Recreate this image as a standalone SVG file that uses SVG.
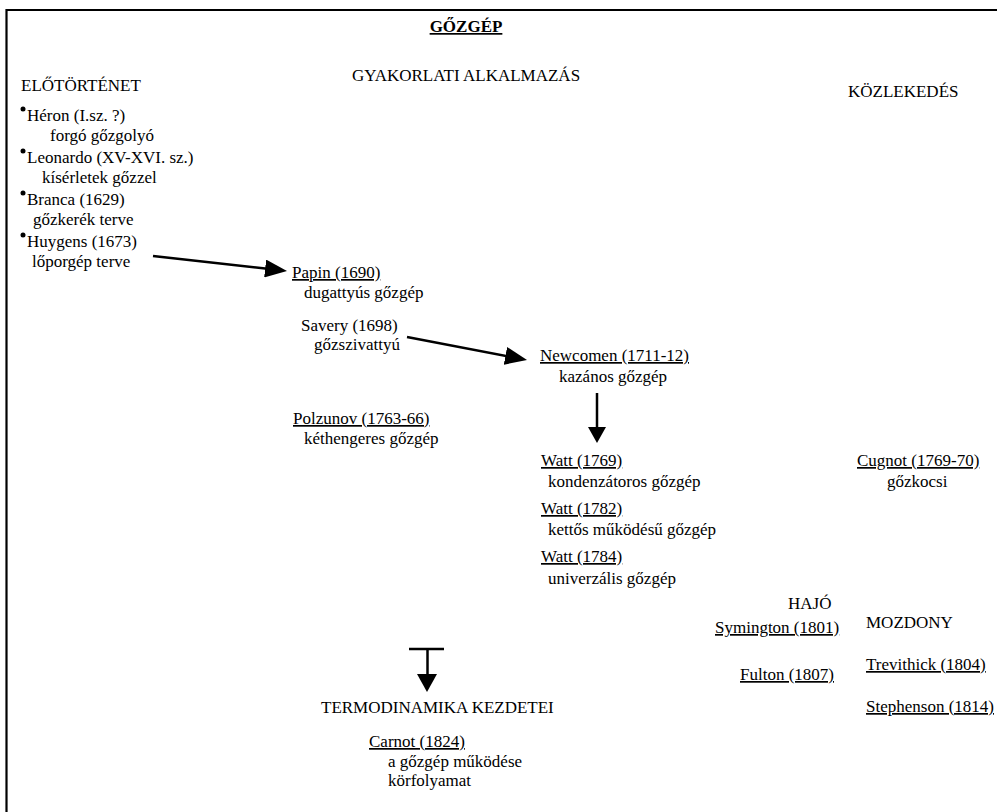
<svg xmlns="http://www.w3.org/2000/svg" width="997" height="812" viewBox="0 0 997 812">
  <style>
    text { font-family: "Liberation Serif", "Times New Roman", serif; font-size: 17px; fill: #000; }
    .title { font-weight: bold; text-decoration: underline; }
    .u { text-decoration: underline; }
    .frame { fill: none; stroke: #000; stroke-width: 2.2; }
    .conn { stroke: #000; stroke-width: 2.5; fill: none; }
    .bullet { fill: #000; }
  </style>
  <defs>
    <marker id="head" viewBox="0 0 22 18" markerWidth="22" markerHeight="18" refX="7" refY="9" orient="auto" markerUnits="userSpaceOnUse">
      <path d="M0,0 L22,9 L0,18 z" fill="#000"/>
    </marker>
    <marker id="headShort" viewBox="0 0 16 18" markerWidth="16" markerHeight="18" refX="7" refY="9" orient="auto" markerUnits="userSpaceOnUse">
      <path d="M0,0 L16,9 L0,18 z" fill="#000"/>
    </marker>
  </defs>
  <rect width="997" height="812" fill="#fff"/>

  <!-- open frame: top rule and left rule -->
  <path class="frame" d="M6.5,812 V10 H997"/>

  <g id="title">
    <text class="title" x="466" y="32" text-anchor="middle">GŐZGÉP</text>
  </g>

  <!-- column headings -->
  <g id="heading-elotortenet"><text x="21" y="91">ELŐTÖRTÉNET</text></g>
  <g id="heading-gyakorlati"><text x="352" y="81">GYAKORLATI ALKALMAZÁS</text></g>
  <g id="heading-kozlekedes"><text x="848" y="97">KÖZLEKEDÉS</text></g>

  <!-- prehistory list -->
  <g id="heron">
    <circle class="bullet" cx="23" cy="109" r="2.5"/>
    <text x="27" y="121">Héron (I.sz. ?)</text>
    <text x="50" y="141">forgó gőzgolyó</text>
  </g>
  <g id="leonardo">
    <circle class="bullet" cx="23" cy="151" r="2.5"/>
    <text x="27" y="163">Leonardo (XV-XVI. sz.)</text>
    <text x="42" y="183">kísérletek gőzzel</text>
  </g>
  <g id="branca">
    <circle class="bullet" cx="23" cy="193" r="2.5"/>
    <text x="27" y="205">Branca (1629)</text>
    <text x="33" y="225">gőzkerék terve</text>
  </g>
  <g id="huygens">
    <circle class="bullet" cx="23" cy="235" r="2.5"/>
    <text x="27" y="247">Huygens (1673)</text>
    <text x="32" y="267">lőporgép terve</text>
  </g>

  <!-- practical applications -->
  <g id="papin">
    <text class="u" x="292" y="278">Papin (1690)</text>
    <text x="304" y="298">dugattyús gőzgép</text>
  </g>
  <g id="savery">
    <text x="301" y="331">Savery (1698)</text>
    <text x="314" y="350">gőzszivattyú</text>
  </g>
  <g id="newcomen">
    <text class="u" x="540" y="361">Newcomen (1711-12)</text>
    <text x="559" y="382">kazános gőzgép</text>
  </g>
  <g id="polzunov">
    <text class="u" x="293" y="424">Polzunov (1763-66)</text>
    <text x="304" y="444">kéthengeres gőzgép</text>
  </g>
  <g id="watt-1769">
    <text class="u" x="541" y="466">Watt (1769)</text>
    <text x="548" y="487">kondenzátoros gőzgép</text>
  </g>
  <g id="watt-1782">
    <text class="u" x="541" y="514">Watt (1782)</text>
    <text x="548" y="535">kettős működésű gőzgép</text>
  </g>
  <g id="watt-1784">
    <text class="u" x="541" y="562">Watt (1784)</text>
    <text x="548" y="584">univerzális gőzgép</text>
  </g>

  <!-- transport -->
  <g id="cugnot">
    <text class="u" x="857" y="466">Cugnot (1769-70)</text>
    <text x="887" y="487">gőzkocsi</text>
  </g>
  <g id="hajo"><text x="788" y="609">HAJÓ</text></g>
  <g id="symington"><text class="u" x="715" y="633">Symington (1801)</text></g>
  <g id="fulton"><text class="u" x="740" y="680">Fulton (1807)</text></g>
  <g id="mozdony"><text x="866" y="628">MOZDONY</text></g>
  <g id="trevithick"><text class="u" x="866" y="670">Trevithick (1804)</text></g>
  <g id="stephenson"><text class="u" x="866" y="712">Stephenson (1814)</text></g>

  <!-- thermodynamics -->
  <g id="termodinamika"><text x="321" y="713">TERMODINAMIKA KEZDETEI</text></g>
  <g id="carnot">
    <text class="u" x="369" y="747">Carnot (1824)</text>
    <text x="388" y="767">a gőzgép működése</text>
    <text x="388" y="786">körfolyamat</text>
  </g>

  <!-- connectors -->
  <g id="connectors">
    <line class="conn" x1="153" y1="256" x2="272.1" y2="269.3" marker-end="url(#head)"/>
    <line class="conn" x1="407" y1="337" x2="512.3" y2="357.2" marker-end="url(#head)"/>
    <line class="conn" x1="597" y1="393" x2="597" y2="434" stroke-width="2.2" marker-end="url(#headShort)"/>
    <!-- T-shaped arrow into the thermodynamics heading -->
    <line class="conn" x1="409" y1="649" x2="444" y2="649" stroke-width="2.2"/>
    <line class="conn" x1="427.5" y1="649" x2="427.5" y2="676" stroke-width="5.5"/>
    <path d="M417,674 L437,674 L427,692 z" fill="#000"/>
  </g>
</svg>
